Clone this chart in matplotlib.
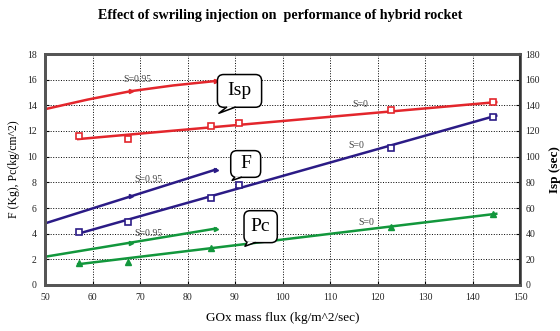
import matplotlib
matplotlib.use("Agg")
import matplotlib.pyplot as plt
from matplotlib.patches import FancyBboxPatch, Polygon

plt.rcParams['font.family'] = ['Liberation Serif', 'DejaVu Serif']

# data ----------------------------------------------------------------------
# swirl S=0.95 (upper curves)
isp_sw_x = [50, 59, 68, 77, 86]
isp_sw_y = [137, 144.5, 151, 155.5, 159]
f_sw_x = [50, 68, 86]
f_sw_y = [4.8, 6.9, 9.0]
pc_sw_x = [50, 68, 86]
pc_sw_y = [2.2, 3.3, 4.4]

# no swirl S=0 (measured points)
flux_0 = [57.2, 67.4, 85.0, 90.9, 122.8, 144.3]
isp_0 = [116, 114, 124, 126, 136, 142.5]
f_0 = [4.1, 4.9, 6.8, 7.8, 10.7, 13.1]
pc_0 = [1.75, 1.8, 2.9, None, 4.55, 5.5]

# trend lines for S=0 (end points)
trend_x = [57, 145]
isp_trend = [113.7, 142.5]
f_trend = [4.0, 13.2]
pc_trend = [1.62, 5.55]

RED = '#e3262c'
NAVY = '#2b1b86'
GREEN = '#12973c'
GRAY = '#555555'

fig = plt.figure(figsize=(5.6, 3.31), dpi=100)
ax = fig.add_axes([45 / 560, 46 / 331, 475 / 560, 231 / 331])
ax2 = ax.twinx()

ax.set_xlim(50, 150)
ax.set_ylim(0, 18)
ax2.set_ylim(0, 180)
ax.set_xticks(range(50, 151, 10))
ax.set_yticks(range(0, 19, 2))
ax2.set_yticks(range(0, 181, 20))
ax.grid(True, color='black', linestyle=':', linewidth=0.7)
ax.tick_params(direction='in', labelsize=7, length=3, pad=6, labelcolor='#222222')
ax2.tick_params(direction='in', labelsize=7, length=3, pad=4, labelcolor='#222222')
for sp in ax.spines.values():
    sp.set_color(GRAY)
    sp.set_linewidth(2)
for sp in ax2.spines.values():
    sp.set_color(GRAY)
    sp.set_linewidth(2)
ax2.spines['right'].set_color('#333333')
ax2.spines['right'].set_linewidth(1.5)

# S=0.95 lines
ax2.plot(isp_sw_x, isp_sw_y, color=RED, lw=1.8)
ax2.plot(isp_sw_x[2::2], isp_sw_y[2::2], ls='none', marker='>', ms=3, color=RED)
ax.plot(f_sw_x, f_sw_y, color=NAVY, lw=1.8, marker='>', ms=3, markevery=[1, 2])
ax.plot(pc_sw_x, pc_sw_y, color=GREEN, lw=1.8, marker='>', ms=3, markevery=[1, 2])

# S=0 trend lines and points
ax2.plot(trend_x, isp_trend, color=RED, lw=1.8)
ax.plot(trend_x, f_trend, color=NAVY, lw=1.8)
ax.plot(trend_x, pc_trend, color=GREEN, lw=1.8)
ax2.plot(flux_0, isp_0, ls='none', marker='s', ms=4, mfc='white', mec=RED, mew=1.2)
ax.plot(flux_0, f_0, ls='none', marker='s', ms=4, mfc='white', mec=NAVY, mew=1.2)
pc_pts = [(x, y) for x, y in zip(flux_0, pc_0) if y is not None]
ax.plot([p[0] for p in pc_pts], [p[1] for p in pc_pts], ls='none', marker='^', ms=5, color=GREEN)

# S labels
for x, y, s in [(69.5, 16.0, 'S=0.95'), (71.8, 8.25, 'S=0.95'), (71.8, 4.05, 'S=0.95'),
                (116.3, 14.1, 'S=0'), (115.5, 10.85, 'S=0'), (117.7, 4.9, 'S=0')]:
    ax2.text(x, y, s, transform=ax.transData, fontsize=7, color='#444444',
             ha='center', va='center', zorder=5)


def callout(x0, x1, y0, y1, tail_x0, tail_x1, tip, label):
    box = FancyBboxPatch((x0, y0), x1 - x0, y1 - y0,
                         boxstyle='round,pad=0,rounding_size=1.3', mutation_aspect=0.37,
                         transform=ax.transData, fc='white', ec='black', lw=1.1, zorder=6)
    ax2.add_patch(box)
    tail = Polygon([(tail_x0, y0 + 0.08), tip, (tail_x1, y0 + 0.08)], closed=True,
                   transform=ax.transData, fc='white', ec='none', zorder=7)
    ax2.add_patch(tail)
    ax2.plot([tail_x0, tip[0], tail_x1], [y0, tip[1], y0], color='black', lw=1.1,
             transform=ax.transData, zorder=8)
    ax2.text((x0 + x1) / 2, (y0 + y1) / 2, label, transform=ax.transData,
             fontsize=14, ha='center', va='center', zorder=9)


callout(86.3, 95.6, 13.85, 16.4, 88.2, 90.0, (86.6, 13.38), 'Isp')
callout(89.1, 95.4, 8.39, 10.47, 89.9, 91.3, (89.4, 8.15), 'F')
callout(91.9, 98.9, 3.30, 5.79, 92.5, 94.2, (92.1, 3.02), 'Pc')

ax.set_xlabel('GOx mass flux (kg/m^2/sec)', fontsize=9.5, labelpad=7)
ax.set_ylabel('F (Kg), Pc(kg/cm^2)', fontsize=8.5, labelpad=5)
ax2.set_ylabel('Isp (sec)', fontsize=9.5, fontweight='bold', labelpad=6)
fig.text(0.5, 1 - 15 / 331, 'Effect of swriling injection on  performance of hybrid rocket',
         ha='center', va='center', fontsize=10.2, fontweight='bold')

fig.savefig('out.png', dpi=100)
